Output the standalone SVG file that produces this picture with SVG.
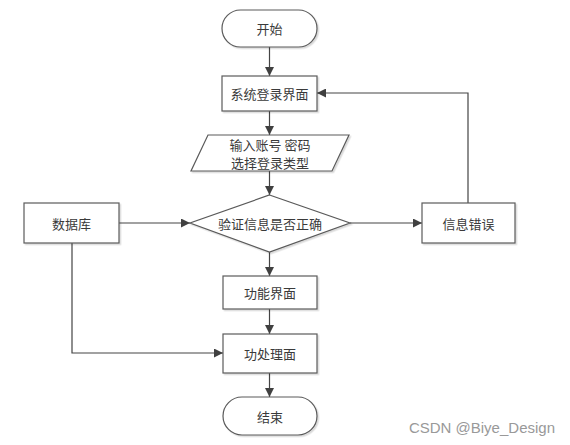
<svg xmlns="http://www.w3.org/2000/svg" width="570" height="445" viewBox="0 0 570 445">
<style>
.s{fill:#fff;stroke:#5a5a5a;stroke-width:1.2;filter:url(#sh)}
.t{font-family:"Noto Sans CJK SC","Noto Sans",sans-serif;font-size:13px;fill:#3a3a3a;text-anchor:middle;dominant-baseline:central}
.c{fill:none;stroke:#444;stroke-width:1.2}
</style>
<defs>
<marker id="a" viewBox="0 0 10 10" refX="10" refY="5" markerWidth="9" markerHeight="9" markerUnits="userSpaceOnUse" orient="auto">
<path d="M0,0 L10,5 L0,10 z" fill="#404040"/>
</marker>
<filter id="sh" x="-10%" y="-10%" width="130%" height="130%">
<feDropShadow dx="1.5" dy="1.5" stdDeviation="0.6" flood-color="#000" flood-opacity="0.15"/>
</filter>
</defs>
<rect width="570" height="445" fill="#fff"/>
<g id="connectors">
<path class="c" d="M269.5,47 V76" marker-end="url(#a)"/>
<path class="c" d="M269.5,111 V135" marker-end="url(#a)"/>
<path class="c" d="M269.5,171 V195" marker-end="url(#a)"/>
<path class="c" d="M119,223 H190" marker-end="url(#a)"/>
<path class="c" d="M350,223 H422" marker-end="url(#a)"/>
<path class="c" d="M468,203 V93 H317" marker-end="url(#a)"/>
<path class="c" d="M269.5,252 V276" marker-end="url(#a)"/>
<path class="c" d="M269.5,309 V334" marker-end="url(#a)"/>
<path class="c" d="M72,243 V353 H223" marker-end="url(#a)"/>
<path class="c" d="M269.5,373 V397" marker-end="url(#a)"/>
</g>
<g id="start"><rect class="s" x="222" y="10" width="95" height="37" rx="18.5"/><text class="t" x="269.5" y="28.5">开始</text></g>
<g id="login"><rect class="s" x="222" y="76" width="95" height="35"/><text class="t" x="269.5" y="93.5">系统登录界面</text></g>
<g id="input"><polygon class="s" points="208,135 349,135 332,171 191,171"/><text class="t" x="270" y="144">输入账号 密码</text><text class="t" x="270" y="162">选择登录类型</text></g>
<g id="db"><rect class="s" x="24" y="203" width="95" height="40"/><text class="t" x="71.5" y="223">数据库</text></g>
<g id="verify"><polygon class="s" points="269.5,195 350,223 269.5,252 190,223"/><text class="t" x="270" y="223">验证信息是否正确</text></g>
<g id="error"><rect class="s" x="422" y="203" width="93" height="40"/><text class="t" x="468.5" y="223">信息错误</text></g>
<g id="func"><rect class="s" x="223" y="276" width="94" height="33"/><text class="t" x="270" y="292.5">功能界面</text></g>
<g id="proc"><rect class="s" x="223" y="334" width="94" height="39"/><text class="t" x="270" y="353.5">功处理面</text></g>
<g id="end"><rect class="s" x="223" y="397" width="94" height="38" rx="19"/><text class="t" x="270" y="416">结束</text></g>
<text x="555" y="427" font-family="Liberation Sans,Arial,sans-serif" font-size="15" fill="#999" text-anchor="end" dominant-baseline="central">CSDN @Biye_Design</text>
</svg>
